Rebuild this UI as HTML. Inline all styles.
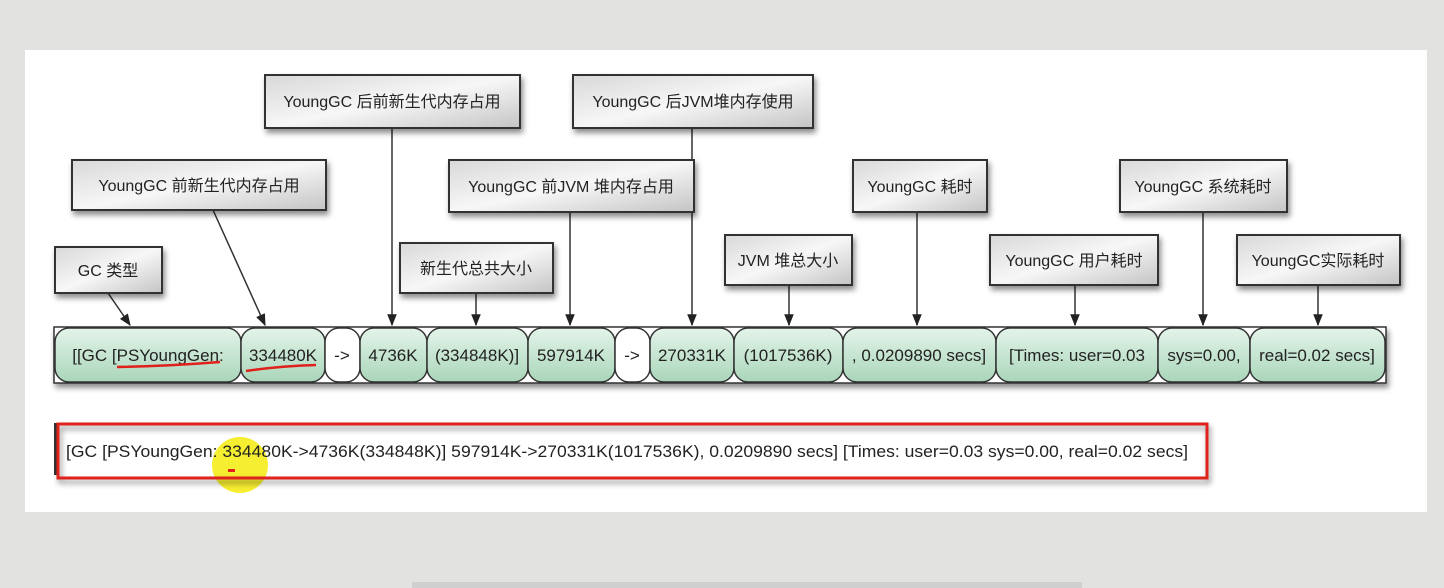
<!DOCTYPE html>
<html><head><meta charset="utf-8"><style>
html,body{margin:0;padding:0;background:#e2e2e0;}
svg{display:block;}
text{font-family:"Liberation Sans","Noto Sans CJK SC",sans-serif;}
</style></head><body>
<svg width="1444" height="588" viewBox="0 0 1444 588" xmlns="http://www.w3.org/2000/svg">
<defs>
<linearGradient id="gb" x1="0" y1="0" x2="1" y2="1">
<stop offset="0" stop-color="#d8d8d8"/><stop offset="0.5" stop-color="#f7f7f7"/><stop offset="1" stop-color="#c4c4c4"/>
</linearGradient>
<linearGradient id="gg" x1="0" y1="0" x2="0" y2="1">
<stop offset="0" stop-color="#e4f4ea"/><stop offset="1" stop-color="#a9d6ba"/>
</linearGradient>
<filter id="sh" x="-10%" y="-10%" width="130%" height="150%"><feDropShadow dx="2" dy="4" stdDeviation="3" flood-color="#000" flood-opacity="0.45"/></filter>
<marker id="ar" viewBox="0 0 10 10" refX="9" refY="5" markerWidth="8" markerHeight="8" orient="auto"><path d="M0,1 L10,5 L0,9 z" fill="#222"/></marker>
</defs>
<rect x="0" y="0" width="1444" height="588" fill="#e2e2e0"/>
<rect x="25" y="50" width="1402" height="462" fill="#fff"/>
<rect x="412" y="582" width="670" height="6" fill="#cfcfcf"/>

<g stroke="#333" stroke-width="1.5" marker-end="url(#ar)">
<line x1="108" y1="293" x2="130" y2="325"/>
<line x1="213" y1="210" x2="265" y2="325"/>
<line x1="392" y1="128" x2="392" y2="325"/>
<line x1="476" y1="293" x2="476" y2="325"/>
<line x1="570" y1="212" x2="570" y2="325"/>
<line x1="692" y1="128" x2="692" y2="325"/>
<line x1="789" y1="285" x2="789" y2="325"/>
<line x1="917" y1="212" x2="917" y2="325"/>
<line x1="1075" y1="285" x2="1075" y2="325"/>
<line x1="1203" y1="212" x2="1203" y2="325"/>
<line x1="1318" y1="285" x2="1318" y2="325"/>
</g>

<g stroke="#333" stroke-width="2" fill="url(#gb)" filter="url(#sh)">
<rect x="55" y="247" width="107" height="46"/>
<rect x="72" y="160" width="254" height="50"/>
<rect x="265" y="75" width="255" height="53"/>
<rect x="400" y="243" width="153" height="50"/>
<rect x="449" y="160" width="245" height="52"/>
<rect x="573" y="75" width="240" height="53"/>
<rect x="725" y="235" width="127" height="50"/>
<rect x="853" y="160" width="134" height="52"/>
<rect x="990" y="235" width="168" height="50"/>
<rect x="1120" y="160" width="167" height="52"/>
<rect x="1237" y="235" width="163" height="50"/>
</g>
<g font-size="16" fill="#222" text-anchor="middle">
<text x="108" y="276">GC 类型</text>
<text x="199" y="191">YoungGC 前新生代内存占用</text>
<text x="392" y="107">YoungGC 后前新生代内存占用</text>
<text x="476" y="274">新生代总共大小</text>
<text x="571" y="192">YoungGC 前JVM 堆内存占用</text>
<text x="693" y="107">YoungGC 后JVM堆内存使用</text>
<text x="788" y="266">JVM 堆总大小</text>
<text x="920" y="192">YoungGC 耗时</text>
<text x="1074" y="266">YoungGC 用户耗时</text>
<text x="1203" y="192">YoungGC 系统耗时</text>
<text x="1318" y="266">YoungGC实际耗时</text>
</g>

<rect x="54" y="327" width="1332" height="56" fill="#fff" stroke="#333" stroke-width="1.5" filter="url(#sh)"/>
<g stroke="#333" stroke-width="1.5">
<rect x="55" y="328" width="186" height="54" rx="14" fill="url(#gg)"/>
<rect x="241" y="328" width="84" height="54" rx="14" fill="url(#gg)"/>
<rect x="325" y="328" width="35" height="54" rx="14" fill="#fff"/>
<rect x="360" y="328" width="67" height="54" rx="14" fill="url(#gg)"/>
<rect x="427" y="328" width="101" height="54" rx="14" fill="url(#gg)"/>
<rect x="528" y="328" width="87" height="54" rx="14" fill="url(#gg)"/>
<rect x="615" y="328" width="35" height="54" rx="14" fill="#fff"/>
<rect x="650" y="328" width="84" height="54" rx="14" fill="url(#gg)"/>
<rect x="734" y="328" width="109" height="54" rx="14" fill="url(#gg)"/>
<rect x="843" y="328" width="153" height="54" rx="14" fill="url(#gg)"/>
<rect x="996" y="328" width="162" height="54" rx="14" fill="url(#gg)"/>
<rect x="1158" y="328" width="92" height="54" rx="14" fill="url(#gg)"/>
<rect x="1250" y="328" width="135" height="54" rx="14" fill="url(#gg)"/>
</g>
<g font-size="17" fill="#222" text-anchor="middle">
<text x="148" y="361">[[GC [PSYoungGen:</text>
<text x="283" y="361">334480K</text>
<text x="342" y="361">-&gt;</text>
<text x="393" y="361">4736K</text>
<text x="477" y="361">(334848K)]</text>
<text x="571" y="361">597914K</text>
<text x="632" y="361">-&gt;</text>
<text x="692" y="361">270331K</text>
<text x="788" y="361">(1017536K)</text>
<text x="919" y="361">, 0.0209890 secs]</text>
<text x="1077" y="361">[Times: user=0.03</text>
<text x="1204" y="361">sys=0.00,</text>
<text x="1317" y="361">real=0.02 secs]</text>
</g>
<path d="M117,367 Q170,366 220,362" stroke="#e0201a" stroke-width="2.5" fill="none"/>
<path d="M246,371 Q280,366 316,365" stroke="#e0201a" stroke-width="2.5" fill="none"/>

<rect x="54" y="423" width="4" height="52" fill="#333"/>
<circle cx="240" cy="465" r="28" fill="#f5ec1a" opacity="0.9"/>
<rect x="58" y="424" width="1149" height="54" fill="none" stroke="#e0201a" stroke-width="3" filter="url(#sh)"/>
<text x="66" y="457" font-size="17" fill="#222" textLength="1122" lengthAdjust="spacingAndGlyphs">[GC [PSYoungGen: 334480K-&gt;4736K(334848K)] 597914K-&gt;270331K(1017536K), 0.0209890 secs] [Times: user=0.03 sys=0.00, real=0.02 secs]</text>
<rect x="228" y="469" width="7" height="3" fill="#e0201a"/>
</svg>
</body></html>
